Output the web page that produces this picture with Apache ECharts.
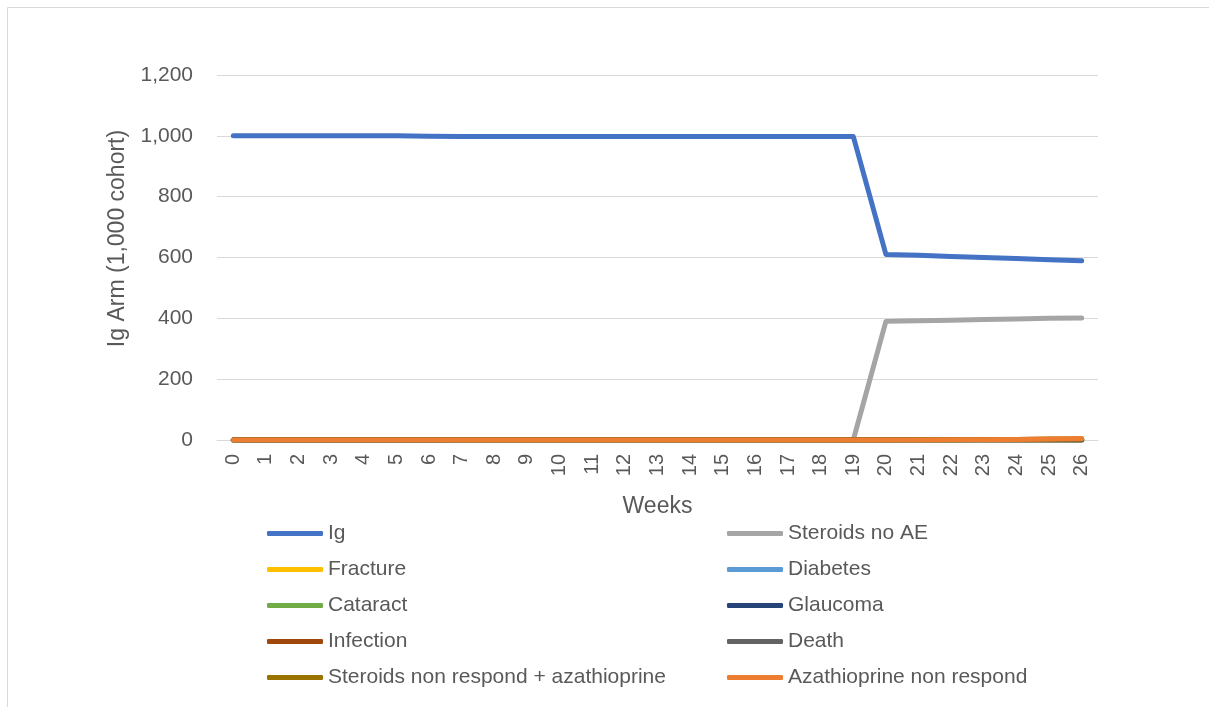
<!DOCTYPE html>
<html>
<head>
<meta charset="utf-8">
<script src="https://cdn.jsdelivr.net/npm/echarts@6/dist/echarts.min.js"></script>
<style>
  html, body { margin: 0; padding: 0; background: #fff; }
  #chart { width: 1209px; height: 707px; }
</style>
</head>
<body>
<div id="chart"></div>
<script>
  // weeks on the x axis
  var weeks = ['0','1','2','3','4','5','6','7','8','9','10','11','12','13','14','15','16','17','18','19','20','21','22','23','24','25','26'];

  // cohort counts (1,000 cohort)
  var ig          = [1000, 1000, 1000, 1000, 1000, 1000, 999, 998, 998, 998, 998, 998, 998, 998, 998, 998, 998, 998, 998, 998, 610, 607, 603, 600, 597, 593, 589];
  var steroidsNoAE = [0, 0, 0, 0, 0, 0, 0, 0, 0, 0, 0, 0, 0, 0, 0, 0, 0, 0, 0, 0, 390, 392, 394, 396, 398, 400, 401];
  var fracture    = [0, 0, 0, 0, 0, 0, 0, 0, 0, 0, 0, 0, 0, 0, 0, 0, 0, 0, 0, 0, 0, 0, 0, 0, 0, 0, 0];
  var diabetes    = [0, 0, 0, 0, 0, 0, 0, 0, 0, 0, 0, 0, 0, 0, 0, 0, 0, 0, 0, 0, 0, 0, 0, 0, 0, 0, 0];
  var cataract    = [0, 0, 0, 0, 0, 0, 0, 0, 0, 0, 0, 0, 0, 0, 0, 0, 0, 0, 0, 0, 0, 0, 0, 0, 0, 0, 0];
  var glaucoma    = [0, 0, 0, 0, 0, 0, 0, 0, 0, 0, 0, 0, 0, 0, 0, 0, 0, 0, 0, 0, 0, 0, 0, 0, 0, 0, 0];
  var infection   = [0, 0, 0, 0, 0, 0, 0, 0, 0, 0, 0, 0, 0, 0, 0, 0, 0, 0, 0, 0, 0, 0, 0, 0, 0, 0, 0];
  var death       = [0, 0, 0, 0, 0, 0, 0, 1, 1, 1, 1, 1, 1, 1, 1, 1, 1, 1, 1, 1, 1, 1, 1, 1, 1, 1, 1];
  var steroidsNonRespAza = [0, 0, 0, 0, 0, 0, 0, 0, 0, 0, 0, 0, 0, 0, 0, 0, 0, 0, 0, 0, 0, 1, 1, 2, 2, 3, 3];
  var azaNonRespond = [0, 0, 0, 0, 0, 0, 0, 0, 0, 0, 0, 0, 0, 0, 0, 0, 0, 0, 0, 0, 0, 0, 1, 1, 2, 3, 5];

  var yTicks = [0, 200, 400, 600, 800, 1000, 1200];

  var seriesList = [
    {name: 'Ig', data: ig, color: '#4472C4'},
    {name: 'Steroids no AE', data: steroidsNoAE, color: '#A5A5A5'},
    {name: 'Fracture', data: fracture, color: '#FFC000'},
    {name: 'Diabetes', data: diabetes, color: '#5B9BD5'},
    {name: 'Cataract', data: cataract, color: '#70AD47'},
    {name: 'Glaucoma', data: glaucoma, color: '#264478'},
    {name: 'Infection', data: infection, color: '#9E480E'},
    {name: 'Death', data: death, color: '#636363'},
    {name: 'Steroids non respond + azathioprine', data: steroidsNonRespAza, color: '#997300'},
    {name: 'Azathioprine non respond', data: azaNonRespond, color: '#ED7D31'}
  ];

  var fontFamily = '"Liberation Sans", Arial, sans-serif';
  var textColor = '#595959';

  var legendCommon = {
    orient: 'vertical',
    padding: 0,
    icon: 'roundRect',
    itemWidth: 56,
    itemHeight: 5,
    itemGap: 15,
    itemTextGap: 4,
    selectedMode: false,
    textStyle: {fontFamily: fontFamily, fontSize: 21, color: textColor, lineHeight: 21}
  };

  var chart = echarts.init(document.getElementById('chart'));
  chart.setOption({
    animation: false,
    color: seriesList.map(function (s) { return s.color; }),
    graphic: [{
      type: 'rect',
      shape: {x: 7.5, y: 7.5, width: 1300, height: 800},
      style: {fill: 'none', stroke: '#D9D9D9', lineWidth: 1},
      silent: true
    }],
    legend: [
      Object.assign({}, legendCommon, {
        left: 267, top: 523,
        data: ['Ig', 'Fracture', 'Cataract', 'Infection', 'Steroids non respond + azathioprine']
      }),
      Object.assign({}, legendCommon, {
        left: 727, top: 523,
        data: ['Steroids no AE', 'Diabetes', 'Glaucoma', 'Death', 'Azathioprine non respond']
      })
    ],
    grid: {left: 217, right: 111, top: 75, bottom: 267, containLabel: false},
    xAxis: {
      type: 'category',
      data: weeks,
      boundaryGap: true,
      name: 'Weeks',
      nameLocation: 'middle',
      nameGap: 55,
      nameTextStyle: {fontFamily: fontFamily, fontSize: 23, color: textColor},
      axisLine: {lineStyle: {color: '#D9D9D9', width: 1}},
      axisTick: {show: false},
      axisLabel: {rotate: 90, fontFamily: fontFamily, fontSize: 20, color: textColor, margin: 14}
    },
    yAxis: {
      type: 'value',
      min: yTicks[0],
      max: yTicks[yTicks.length - 1],
      interval: 200,
      name: 'Ig Arm (1,000 cohort)',
      nameLocation: 'middle',
      nameGap: 88,
      nameTextStyle: {fontFamily: fontFamily, fontSize: 23, color: textColor, padding: [0, 0, 0, 38]},
      axisLine: {show: false},
      axisTick: {show: false},
      splitLine: {lineStyle: {color: '#D9D9D9', width: 1}},
      axisLabel: {
        fontFamily: fontFamily, fontSize: 21, color: textColor, margin: 24,
        formatter: function (v) { return v.toLocaleString('en-US'); }
      }
    },
    series: seriesList.map(function (s) {
      return {
        name: s.name,
        type: 'line',
        data: s.data,
        symbol: 'none',
        lineStyle: {width: 5, color: s.color, cap: 'round', join: 'round'},
        itemStyle: {color: s.color}
      };
    })
  });
</script>
</body>
</html>
